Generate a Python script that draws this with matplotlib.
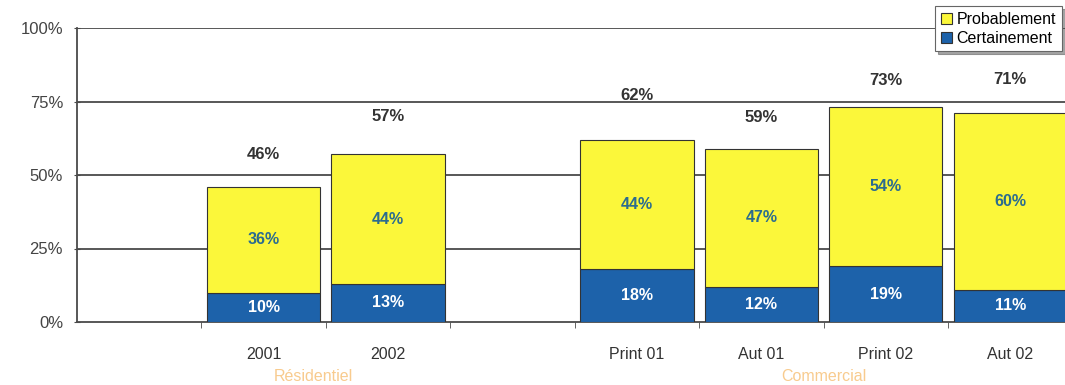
import matplotlib.pyplot as plt
import numpy as np

plt.rcParams['font.family'] = ['Liberation Sans', 'DejaVu Sans']

categories = ['2001', '2002', 'Print 01', 'Aut 01', 'Print 02', 'Aut 02']
slots = [1, 2, 4, 5, 6, 7]
certainement = [10, 13, 18, 12, 19, 11]
probablement = [36, 44, 44, 47, 54, 60]
totals = [46, 57, 62, 59, 73, 71]
groups = ['Résidentiel', 'Commercial']
group_centers = [1.4, 5.5]

# how far above each bar top the total sits (points)
total_offsets = [23, 27, 32, 22, 19, 24]

yellow = '#FBF73A'
blue = '#1D62AA'
grid_col = '#4a4a4a'

fig = plt.figure(figsize=(10.65, 3.85), dpi=100)
ax = fig.add_axes([77 / 1065, 63 / 385, 988 / 1065, 294 / 385])

x = np.array(slots)
b1 = ax.bar(x, certainement, width=0.91, color=blue, edgecolor='#333333', linewidth=0.8,
            label='Certainement', zorder=3)
b2 = ax.bar(x, probablement, width=0.91, bottom=certainement, color=yellow,
            edgecolor='#333333', linewidth=0.8, label='Probablement', zorder=3)

for xi, c, p, t, off in zip(x, certainement, probablement, totals, total_offsets):
    ax.text(xi, c / 2, f'{c}%', ha='center', va='center', color='white',
            fontsize=11.5, fontweight='bold', zorder=4)
    ax.text(xi, c + p / 2, f'{p}%', ha='center', va='center', color='#2b6c8f',
            fontsize=11.5, fontweight='bold', zorder=4)
    ax.annotate(f'{t}%', (xi, c + p), xytext=(0, off), textcoords='offset points',
                ha='center', va='center', color='#333333', fontsize=12,
                fontweight='bold', zorder=4)

ax.set_ylim(0, 100)
ax.set_xlim(-0.5, 7.44)
ax.set_yticks([0, 25, 50, 75, 100])
ax.set_yticklabels(['0%', '25%', '50%', '75%', '100%'], fontsize=12, color='#444444')
ax.set_xticks(x)
ax.set_xticklabels(categories, fontsize=11.5, color='#333333')
ax.tick_params(axis='x', length=0, pad=18)
ax.set_xticks(np.arange(0.5, 7.5, 1), minor=True)
ax.tick_params(axis='x', which='minor', length=4, direction='out', color=grid_col)
ax.tick_params(axis='y', length=4, direction='inout', color=grid_col, pad=8)

for yv in [25, 50, 75, 100]:
    ax.axhline(yv, color=grid_col, linewidth=1.3, zorder=1)

for side in ['top', 'right']:
    ax.spines[side].set_visible(False)
ax.spines['left'].set_color(grid_col)
ax.spines['left'].set_linewidth(1.3)
ax.spines['bottom'].set_color(grid_col)
ax.spines['bottom'].set_linewidth(1.3)

for g, gc in zip(groups, group_centers):
    ax.text(gc, -0.185, g, transform=ax.get_xaxis_transform(), ha='center', va='center',
            color='#F8CB8E', fontsize=11.5)

leg = ax.legend(handles=[b2, b1], loc='upper right', bbox_to_anchor=(1.0, 1.085),
                fontsize=11.5, frameon=True, fancybox=False, shadow=True,
                handlelength=0.7, handleheight=0.7, handletextpad=0.3,
                borderpad=0.35, labelspacing=0.25, borderaxespad=0.2)
leg.get_frame().set_edgecolor('#666666')
leg.get_frame().set_linewidth(0.8)
leg.set_zorder(5)

fig.savefig('out.png', dpi=100)
